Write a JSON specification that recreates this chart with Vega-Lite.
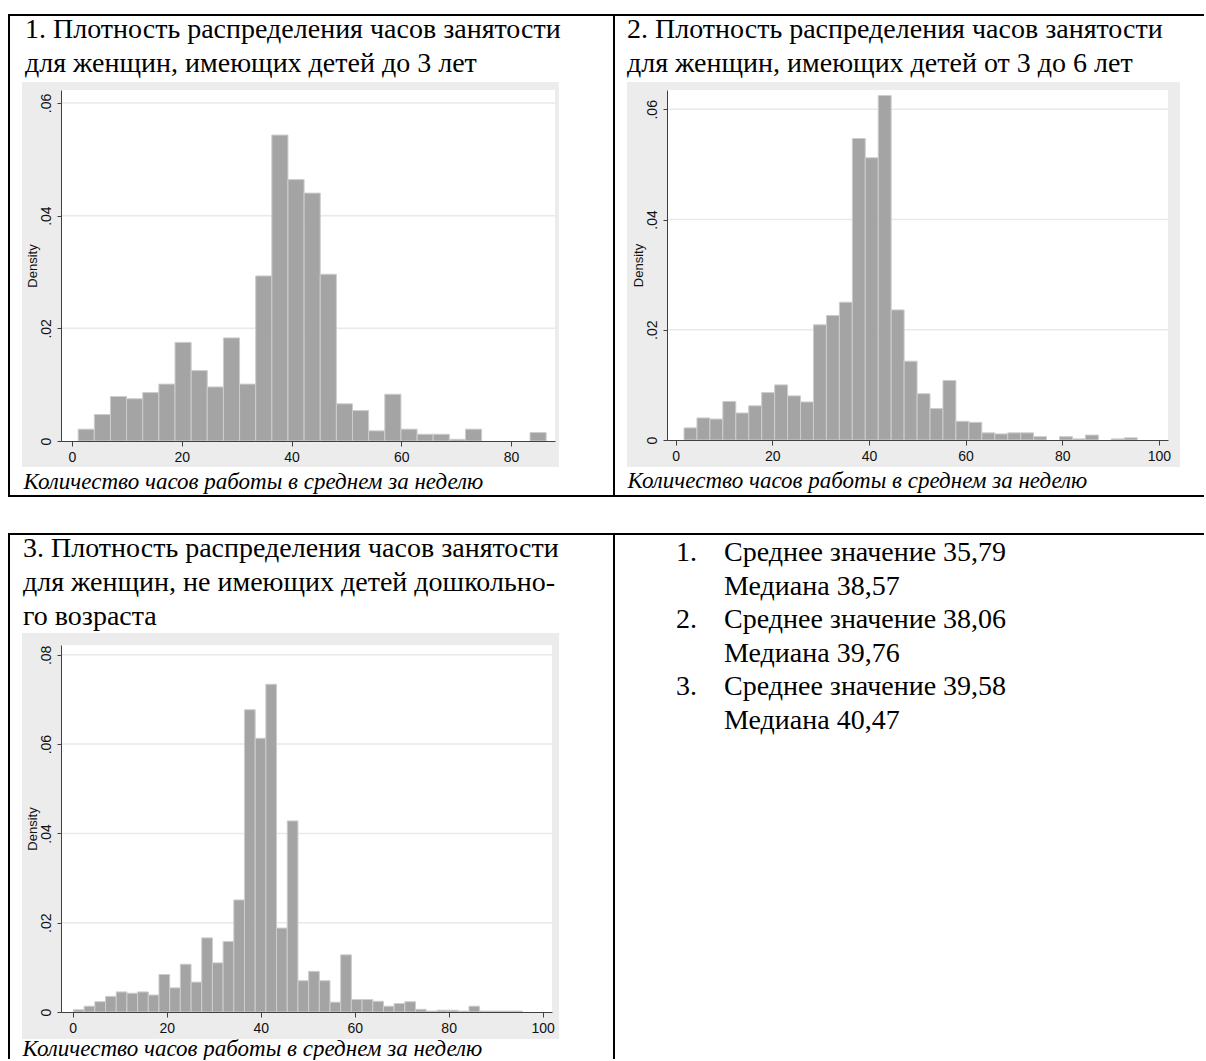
{
  "$schema": "https://vega.github.io/schema/vega-lite/v6.json",
  "padding": {"left": 8, "top": 14, "right": 0, "bottom": 0},
  "background": "white",
  "data": {"values": []},
  "datasets": {
    "h1": [
      {"a": 1.13, "b": 4.07, "d": 0.0021}, {"a": 4.07, "b": 7.01, "d": 0.0047}, {"a": 7.01, "b": 9.95, "d": 0.0079},
      {"a": 9.95, "b": 12.89, "d": 0.0075}, {"a": 12.89, "b": 15.83, "d": 0.0086}, {"a": 15.83, "b": 18.77, "d": 0.0101},
      {"a": 18.77, "b": 21.71, "d": 0.0175}, {"a": 21.71, "b": 24.65, "d": 0.0125}, {"a": 24.65, "b": 27.59, "d": 0.0096},
      {"a": 27.59, "b": 30.53, "d": 0.0183}, {"a": 30.53, "b": 33.47, "d": 0.0101}, {"a": 33.47, "b": 36.41, "d": 0.0293},
      {"a": 36.41, "b": 39.35, "d": 0.0543}, {"a": 39.35, "b": 42.29, "d": 0.0464}, {"a": 42.29, "b": 45.23, "d": 0.0440},
      {"a": 45.23, "b": 48.17, "d": 0.0296}, {"a": 48.17, "b": 51.11, "d": 0.0066}, {"a": 51.11, "b": 54.05, "d": 0.0054},
      {"a": 54.05, "b": 56.99, "d": 0.0018}, {"a": 56.99, "b": 59.93, "d": 0.0083}, {"a": 59.93, "b": 62.87, "d": 0.0021},
      {"a": 62.87, "b": 65.81, "d": 0.0012}, {"a": 65.81, "b": 68.75, "d": 0.0012}, {"a": 68.75, "b": 71.69, "d": 0.0003},
      {"a": 71.69, "b": 74.63, "d": 0.0021}, {"a": 83.45, "b": 86.39, "d": 0.0015}
    ],
    "h2": [
      {"a": 1.72, "b": 4.40, "d": 0.0022}, {"a": 4.40, "b": 7.08, "d": 0.0040}, {"a": 7.08, "b": 9.76, "d": 0.0038},
      {"a": 9.76, "b": 12.44, "d": 0.0070}, {"a": 12.44, "b": 15.12, "d": 0.0049}, {"a": 15.12, "b": 17.80, "d": 0.0062},
      {"a": 17.80, "b": 20.48, "d": 0.0086}, {"a": 20.48, "b": 23.16, "d": 0.0100}, {"a": 23.16, "b": 25.84, "d": 0.0080},
      {"a": 25.84, "b": 28.52, "d": 0.0069}, {"a": 28.52, "b": 31.20, "d": 0.0209}, {"a": 31.20, "b": 33.88, "d": 0.0226},
      {"a": 33.88, "b": 36.56, "d": 0.0250}, {"a": 36.56, "b": 39.24, "d": 0.0547}, {"a": 39.24, "b": 41.92, "d": 0.0512},
      {"a": 41.92, "b": 44.60, "d": 0.0625}, {"a": 44.60, "b": 47.28, "d": 0.0236}, {"a": 47.28, "b": 49.96, "d": 0.0143},
      {"a": 49.96, "b": 52.64, "d": 0.0084}, {"a": 52.64, "b": 55.32, "d": 0.0057}, {"a": 55.32, "b": 58.00, "d": 0.0108},
      {"a": 58.00, "b": 60.68, "d": 0.0034}, {"a": 60.68, "b": 63.36, "d": 0.0032}, {"a": 63.36, "b": 66.04, "d": 0.0013},
      {"a": 66.04, "b": 68.72, "d": 0.0011}, {"a": 68.72, "b": 71.40, "d": 0.0013}, {"a": 71.40, "b": 74.08, "d": 0.0013},
      {"a": 74.08, "b": 76.76, "d": 0.0006}, {"a": 79.44, "b": 82.12, "d": 0.0006}, {"a": 82.12, "b": 84.80, "d": 0.0002},
      {"a": 84.80, "b": 87.48, "d": 0.0009}, {"a": 90.16, "b": 92.84, "d": 0.0002}, {"a": 92.84, "b": 95.52, "d": 0.0004}
    ],
    "h3": [
      {"a": 0.15, "b": 2.43, "d": 0.0005}, {"a": 2.43, "b": 4.70, "d": 0.0013}, {"a": 4.70, "b": 6.98, "d": 0.0023},
      {"a": 6.98, "b": 9.25, "d": 0.0035}, {"a": 9.25, "b": 11.53, "d": 0.0045}, {"a": 11.53, "b": 13.80, "d": 0.0042},
      {"a": 13.80, "b": 16.08, "d": 0.0045}, {"a": 16.08, "b": 18.35, "d": 0.0038}, {"a": 18.35, "b": 20.63, "d": 0.0084},
      {"a": 20.63, "b": 22.90, "d": 0.0054}, {"a": 22.90, "b": 25.18, "d": 0.0107}, {"a": 25.18, "b": 27.45, "d": 0.0067},
      {"a": 27.45, "b": 29.73, "d": 0.0166}, {"a": 29.73, "b": 32.00, "d": 0.0110}, {"a": 32.00, "b": 34.28, "d": 0.0158},
      {"a": 34.28, "b": 36.55, "d": 0.0251}, {"a": 36.55, "b": 38.83, "d": 0.0677}, {"a": 38.83, "b": 41.10, "d": 0.0613},
      {"a": 41.10, "b": 43.38, "d": 0.0734}, {"a": 43.38, "b": 45.65, "d": 0.0188}, {"a": 45.65, "b": 47.93, "d": 0.0428},
      {"a": 47.93, "b": 50.20, "d": 0.0070}, {"a": 50.20, "b": 52.48, "d": 0.0091}, {"a": 52.48, "b": 54.75, "d": 0.0070},
      {"a": 54.75, "b": 57.03, "d": 0.0022}, {"a": 57.03, "b": 59.30, "d": 0.0128}, {"a": 59.30, "b": 61.58, "d": 0.0028},
      {"a": 61.58, "b": 63.85, "d": 0.0028}, {"a": 63.85, "b": 66.13, "d": 0.0024}, {"a": 66.13, "b": 68.40, "d": 0.0013},
      {"a": 68.40, "b": 70.68, "d": 0.0019}, {"a": 70.68, "b": 72.95, "d": 0.0023}, {"a": 72.95, "b": 75.23, "d": 0.0006},
      {"a": 75.23, "b": 77.50, "d": 0.0002}, {"a": 77.50, "b": 79.78, "d": 0.0004}, {"a": 79.78, "b": 82.05, "d": 0.0004},
      {"a": 82.05, "b": 84.33, "d": 0.0002}, {"a": 84.33, "b": 86.60, "d": 0.0013}, {"a": 86.60, "b": 88.88, "d": 0.0002},
      {"a": 88.88, "b": 91.15, "d": 0.0002}, {"a": 91.15, "b": 93.43, "d": 0.0002}, {"a": 93.43, "b": 95.70, "d": 0.0002}
    ],
    "txt": [
      {"r": 0, "c": "n", "s": "1."}, {"r": 0, "c": "t", "s": "Среднее значение 35,79"},
      {"r": 1, "c": "t", "s": "Медиана 38,57"},
      {"r": 2, "c": "n", "s": "2."}, {"r": 2, "c": "t", "s": "Среднее значение 38,06"},
      {"r": 3, "c": "t", "s": "Медиана 39,76"},
      {"r": 4, "c": "n", "s": "3."}, {"r": 4, "c": "t", "s": "Среднее значение 39,58"},
      {"r": 5, "c": "t", "s": "Медиана 40,47"}
    ]
  },
  "columns": 8,
  "spacing": 0,
  "bounds": "flush",
  "concat": [
    {"width": 2, "height": 2, "mark": "rect", "encoding": {}, "view": {"fill": "black"}},
    {"width": 51, "height": 2, "mark": "rect", "encoding": {}, "view": {"fill": "black"}},
    {"width": 494, "height": 2, "mark": "rect", "encoding": {}, "view": {"fill": "black"}},
    {"width": 58, "height": 2, "mark": "rect", "encoding": {}, "view": {"fill": "black"}},
    {"width": 2, "height": 2, "mark": "rect", "encoding": {}, "view": {"fill": "black"}},
    {"width": 52, "height": 2, "mark": "rect", "encoding": {}, "view": {"fill": "black"}},
    {"width": 501, "height": 2, "mark": "rect", "encoding": {}, "view": {"fill": "black"}},
    {"width": 36, "height": 2, "mark": "rect", "encoding": {}, "view": {"fill": "black"}},

    {"width": 2, "height": 74, "mark": "rect", "encoding": {}, "view": {"fill": "black"}},
    {"width": 1, "height": 1, "mark": "rect", "encoding": {}},
    {"width": 1, "height": 1, "mark": "rect", "encoding": {}},
    {"width": 1, "height": 1, "mark": "rect", "encoding": {}},
    {"width": 2, "height": 74, "mark": "rect", "encoding": {}, "view": {"fill": "black"}},
    {"width": 1, "height": 1, "mark": "rect", "encoding": {}},
    {"width": 1, "height": 1, "mark": "rect", "encoding": {}},
    {"width": 1, "height": 1, "mark": "rect", "encoding": {}},

    {"width": 2, "height": 351, "mark": "rect", "encoding": {}, "view": {"fill": "black"}},
    {"width": 1, "height": 1, "mark": "rect", "encoding": {}},
    {
      "width": 494, "height": 351,
      "title": {"text": ["1. Плотность распределения часов занятости", "для женщин, имеющих детей до 3 лет"], "dx": -36, "offset": 4},
      "layer": [
        {"data": {"values": [{}]}, "mark": {"type": "rect", "color": "#ececec"},
         "encoding": {
           "x": {"datum": -9.1, "type": "quantitative", "scale": {"domain": [-2, 88], "nice": false, "zero": false},
                 "axis": {"zindex": 2, "title": "Количество часов работы в среднем за неделю", "values": [0, 20, 40, 60, 80], "titleX": -38, "titleY": 47}},
           "x2": {"datum": 88.7},
           "y": {"datum": 0.0637, "type": "quantitative", "scale": {"domain": [0, 0.0623], "nice": false, "zero": false},
                 "axis": {"zindex": 2, "title": "Density", "values": [0, 0.02, 0.04, 0.06], "labelExpr": "datum.value == 0 ? '0' : replace(format(datum.value, '.2f'), '0.', '.')"}},
           "y2": {"datum": -0.00461}}},
        {"data": {"values": [{}]}, "mark": {"type": "rect", "color": "white"},
         "encoding": {
           "x": {"datum": -2, "type": "quantitative", "scale": {"domain": [-2, 88], "nice": false, "zero": false}},
           "x2": {"datum": 88},
           "y": {"datum": 0.0623, "type": "quantitative", "scale": {"domain": [0, 0.0623], "nice": false, "zero": false}},
           "y2": {"datum": 0}}},
        {"data": {"values": [{"g": 0.02}, {"g": 0.04}, {"g": 0.06}]}, "mark": {"type": "rule", "color": "#e9e9e9", "strokeWidth": 1.5},
         "encoding": {
           "y": {"field": "g", "type": "quantitative", "scale": {"domain": [0, 0.0623], "nice": false, "zero": false}},
           "x": {"datum": -2, "type": "quantitative", "scale": {"domain": [-2, 88], "nice": false, "zero": false}},
           "x2": {"datum": 88}}},
        {"data": {"name": "h1"}, "mark": {"type": "rect", "fill": "#a4a4a4", "stroke": "#cdcdcd", "strokeWidth": 1},
         "encoding": {
           "x": {"field": "a", "type": "quantitative", "scale": {"domain": [-2, 88], "nice": false, "zero": false}},
           "x2": {"field": "b"},
           "y": {"field": "d", "type": "quantitative", "scale": {"domain": [0, 0.0623], "nice": false, "zero": false}},
           "y2": {"datum": 0}}}
      ]
    },
    {"width": 1, "height": 1, "mark": "rect", "encoding": {}},
    {"width": 2, "height": 351, "mark": "rect", "encoding": {}, "view": {"fill": "black"}},
    {"width": 1, "height": 1, "mark": "rect", "encoding": {}},
    {
      "width": 501, "height": 350,
      "title": {"text": ["2. Плотность распределения часов занятости", "для женщин, имеющих детей от 3 до 6 лет"], "dx": -40, "offset": 4},
      "layer": [
        {"data": {"values": [{}]}, "mark": {"type": "rect", "color": "#ececec"},
         "encoding": {
           "x": {"datum": -10.08, "type": "quantitative", "scale": {"domain": [-1.8, 101.9], "nice": false, "zero": false},
                 "axis": {"zindex": 2, "title": "Количество часов работы в среднем за неделю", "values": [0, 20, 40, 60, 80, 100], "titleX": -40, "titleY": 47}},
           "x2": {"datum": 104.37},
           "y": {"datum": 0.06495, "type": "quantitative", "scale": {"domain": [0, 0.0635], "nice": false, "zero": false},
                 "axis": {"zindex": 2, "title": "Density", "values": [0, 0.02, 0.04, 0.06], "labelExpr": "datum.value == 0 ? '0' : replace(format(datum.value, '.2f'), '0.', '.')"}},
           "y2": {"datum": -0.0049}}},
        {"data": {"values": [{}]}, "mark": {"type": "rect", "color": "white"},
         "encoding": {
           "x": {"datum": -1.8, "type": "quantitative", "scale": {"domain": [-1.8, 101.9], "nice": false, "zero": false}},
           "x2": {"datum": 101.9},
           "y": {"datum": 0.0635, "type": "quantitative", "scale": {"domain": [0, 0.0635], "nice": false, "zero": false}},
           "y2": {"datum": 0}}},
        {"data": {"values": [{"g": 0.02}, {"g": 0.04}, {"g": 0.06}]}, "mark": {"type": "rule", "color": "#e9e9e9", "strokeWidth": 1.5},
         "encoding": {
           "y": {"field": "g", "type": "quantitative", "scale": {"domain": [0, 0.0635], "nice": false, "zero": false}},
           "x": {"datum": -1.8, "type": "quantitative", "scale": {"domain": [-1.8, 101.9], "nice": false, "zero": false}},
           "x2": {"datum": 101.9}}},
        {"data": {"name": "h2"}, "mark": {"type": "rect", "fill": "#a4a4a4", "stroke": "#cdcdcd", "strokeWidth": 1},
         "encoding": {
           "x": {"field": "a", "type": "quantitative", "scale": {"domain": [-1.8, 101.9], "nice": false, "zero": false}},
           "x2": {"field": "b"},
           "y": {"field": "d", "type": "quantitative", "scale": {"domain": [0, 0.0635], "nice": false, "zero": false}},
           "y2": {"datum": 0}}}
      ]
    },
    {"width": 1, "height": 1, "mark": "rect", "encoding": {}},

    {"width": 2, "height": 54, "mark": "rect", "encoding": {}, "view": {"fill": "black"}},
    {"width": 1, "height": 1, "mark": "rect", "encoding": {}},
    {"width": 1, "height": 1, "mark": "rect", "encoding": {}},
    {"width": 1, "height": 1, "mark": "rect", "encoding": {}},
    {"width": 2, "height": 54, "mark": "rect", "encoding": {}, "view": {"fill": "black"}},
    {"width": 1, "height": 1, "mark": "rect", "encoding": {}},
    {"width": 1, "height": 1, "mark": "rect", "encoding": {}},
    {"width": 1, "height": 1, "mark": "rect", "encoding": {}},

    {"width": 2, "height": 2, "mark": "rect", "encoding": {}, "view": {"fill": "black"}},
    {"width": 51, "height": 2, "mark": "rect", "encoding": {}, "view": {"fill": "black"}},
    {"width": 494, "height": 2, "mark": "rect", "encoding": {}, "view": {"fill": "black"}},
    {"width": 58, "height": 2, "mark": "rect", "encoding": {}, "view": {"fill": "black"}},
    {"width": 2, "height": 2, "mark": "rect", "encoding": {}, "view": {"fill": "black"}},
    {"width": 52, "height": 2, "mark": "rect", "encoding": {}, "view": {"fill": "black"}},
    {"width": 501, "height": 2, "mark": "rect", "encoding": {}, "view": {"fill": "black"}},
    {"width": 36, "height": 2, "mark": "rect", "encoding": {}, "view": {"fill": "black"}},

    {"width": 1, "height": 36, "mark": "rect", "encoding": {}},
    {"width": 1, "height": 1, "mark": "rect", "encoding": {}},
    {"width": 1, "height": 1, "mark": "rect", "encoding": {}},
    {"width": 1, "height": 1, "mark": "rect", "encoding": {}},
    {"width": 1, "height": 1, "mark": "rect", "encoding": {}},
    {"width": 1, "height": 1, "mark": "rect", "encoding": {}},
    {"width": 1, "height": 1, "mark": "rect", "encoding": {}},
    {"width": 1, "height": 1, "mark": "rect", "encoding": {}},

    {"width": 2, "height": 2, "mark": "rect", "encoding": {}, "view": {"fill": "black"}},
    {"width": 51, "height": 2, "mark": "rect", "encoding": {}, "view": {"fill": "black"}},
    {"width": 494, "height": 2, "mark": "rect", "encoding": {}, "view": {"fill": "black"}},
    {"width": 58, "height": 2, "mark": "rect", "encoding": {}, "view": {"fill": "black"}},
    {"width": 2, "height": 2, "mark": "rect", "encoding": {}, "view": {"fill": "black"}},
    {"width": 52, "height": 2, "mark": "rect", "encoding": {}, "view": {"fill": "black"}},
    {"width": 501, "height": 2, "mark": "rect", "encoding": {}, "view": {"fill": "black"}},
    {"width": 36, "height": 2, "mark": "rect", "encoding": {}, "view": {"fill": "black"}},

    {"width": 2, "height": 110, "mark": "rect", "encoding": {}, "view": {"fill": "black"}},
    {"width": 1, "height": 1, "mark": "rect", "encoding": {}},
    {"width": 1, "height": 1, "mark": "rect", "encoding": {}},
    {"width": 1, "height": 1, "mark": "rect", "encoding": {}},
    {"width": 2, "height": 110, "mark": "rect", "encoding": {}, "view": {"fill": "black"}},
    {"width": 1, "height": 1, "mark": "rect", "encoding": {}},
    {
      "width": 501, "height": 110,
      "data": {"name": "txt"},
      "mark": {"type": "text", "align": "left", "baseline": "alphabetic", "font": "Liberation Serif", "fontSize": 28, "color": "black"},
      "encoding": {
        "x": {"field": "c", "type": "nominal", "scale": {"type": "point", "domain": ["n", "t"], "range": [9, 57], "padding": 0}, "axis": null},
        "y": {"field": "r", "type": "ordinal", "scale": {"type": "point", "range": [26, 194], "padding": 0}, "axis": null},
        "text": {"field": "s"}
      }
    },
    {"width": 1, "height": 1, "mark": "rect", "encoding": {}},

    {"width": 2, "height": 367, "mark": "rect", "encoding": {}, "view": {"fill": "black"}},
    {"width": 1, "height": 1, "mark": "rect", "encoding": {}},
    {
      "width": 491, "height": 367,
      "title": {"text": ["3. Плотность распределения часов занятости", "для женщин, не имеющих детей дошкольно-", "го возраста"], "dx": -38, "offset": 2},
      "layer": [
        {"data": {"values": [{}]}, "mark": {"type": "rect", "color": "#ececec"},
         "encoding": {
           "x": {"datum": -10.8, "type": "quantitative", "scale": {"domain": [-2.5, 102], "nice": false, "zero": false},
                 "axis": {"zindex": 2, "title": "Количество часов работы в среднем за неделю", "values": [0, 20, 40, 60, 80, 100], "titleX": -39, "titleY": 43}},
           "x2": {"datum": 103.5},
           "y": {"datum": 0.0849, "type": "quantitative", "scale": {"domain": [0, 0.0822], "nice": false, "zero": false},
                 "axis": {"zindex": 2, "title": "Density", "values": [0, 0.02, 0.04, 0.06, 0.08], "labelExpr": "datum.value == 0 ? '0' : replace(format(datum.value, '.2f'), '0.', '.')"}},
           "y2": {"datum": -0.00605}}},
        {"data": {"values": [{}]}, "mark": {"type": "rect", "color": "white"},
         "encoding": {
           "x": {"datum": -2.5, "type": "quantitative", "scale": {"domain": [-2.5, 102], "nice": false, "zero": false}},
           "x2": {"datum": 102},
           "y": {"datum": 0.0822, "type": "quantitative", "scale": {"domain": [0, 0.0822], "nice": false, "zero": false}},
           "y2": {"datum": 0}}},
        {"data": {"values": [{"g": 0.02}, {"g": 0.04}, {"g": 0.06}, {"g": 0.08}]}, "mark": {"type": "rule", "color": "#e9e9e9", "strokeWidth": 1.5},
         "encoding": {
           "y": {"field": "g", "type": "quantitative", "scale": {"domain": [0, 0.0822], "nice": false, "zero": false}},
           "x": {"datum": -2.5, "type": "quantitative", "scale": {"domain": [-2.5, 102], "nice": false, "zero": false}},
           "x2": {"datum": 102}}},
        {"data": {"name": "h3"}, "mark": {"type": "rect", "fill": "#a4a4a4", "stroke": "#cdcdcd", "strokeWidth": 1},
         "encoding": {
           "x": {"field": "a", "type": "quantitative", "scale": {"domain": [-2.5, 102], "nice": false, "zero": false}},
           "x2": {"field": "b"},
           "y": {"field": "d", "type": "quantitative", "scale": {"domain": [0, 0.0822], "nice": false, "zero": false}},
           "y2": {"datum": 0}}}
      ]
    },
    {"width": 1, "height": 1, "mark": "rect", "encoding": {}},
    {"width": 2, "height": 367, "mark": "rect", "encoding": {}, "view": {"fill": "black"}},
    {"width": 1, "height": 1, "mark": "rect", "encoding": {}},
    {"width": 1, "height": 1, "mark": "rect", "encoding": {}},
    {"width": 1, "height": 1, "mark": "rect", "encoding": {}},

    {"width": 2, "height": 47, "mark": "rect", "encoding": {}, "view": {"fill": "black"}},
    {"width": 1, "height": 1, "mark": "rect", "encoding": {}},
    {"width": 1, "height": 1, "mark": "rect", "encoding": {}},
    {"width": 1, "height": 1, "mark": "rect", "encoding": {}},
    {"width": 2, "height": 47, "mark": "rect", "encoding": {}, "view": {"fill": "black"}},
    {"width": 1, "height": 1, "mark": "rect", "encoding": {}},
    {"width": 1, "height": 1, "mark": "rect", "encoding": {}},
    {"width": 1, "height": 1, "mark": "rect", "encoding": {}}
  ],
  "config": {
    "view": {"stroke": null},
    "axis": {"grid": false, "domainColor": "#404040", "domainWidth": 1, "tickColor": "#404040", "tickWidth": 1, "tickSize": 5,
             "labelColor": "#111111", "labelFont": "Liberation Sans", "labelFontSize": 14, "labelFlush": false, "labelOverlap": false},
    "axisX": {"labelPadding": 4, "titleFont": "Liberation Serif", "titleFontSize": 23, "titleFontStyle": "italic", "titleFontWeight": "normal",
              "titleColor": "black", "titleAlign": "left", "titleBaseline": "alphabetic"},
    "axisY": {"labelAngle": -90, "labelAlign": "center", "labelBaseline": "bottom", "labelPadding": 4, "tickSize": 4,
              "titleFont": "Liberation Sans", "titleFontSize": 13, "titleFontWeight": "normal", "titleColor": "#111111", "titlePadding": 0},
    "title": {"font": "Liberation Serif", "fontSize": 28, "fontWeight": "normal", "color": "black", "anchor": "start", "frame": "group", "lineHeight": 34}
  }
}
